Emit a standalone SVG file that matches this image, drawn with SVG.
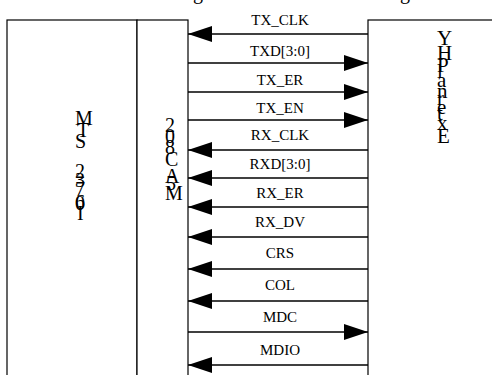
<svg xmlns="http://www.w3.org/2000/svg" width="492" height="375" viewBox="0 0 492 375">
  <style>
    .box { fill: #ffffff; stroke: #000000; stroke-width: 1.2; }
    .sig { stroke: #000000; stroke-width: 1.6; fill: none; }
    .lbl { font-family: "Liberation Serif", "Times New Roman", serif; font-size: 15px; fill: #000000; text-anchor: middle; }
    .vt { font-family: "Liberation Serif", "Times New Roman", serif; font-size: 20px; fill: #000000; }
  </style>
  <defs>
    <marker id="head" viewBox="0 0 24 16" refX="24" refY="8" markerWidth="24" markerHeight="16" markerUnits="userSpaceOnUse" orient="auto">
      <path d="M0,0 L24,8 L0,16 Z" fill="#000000"/>
    </marker>
  </defs>
  <rect width="492" height="375" fill="#ffffff"/>

  <!-- heading glyphs clipped by the top edge -->
  <text class="vt" x="193" y="-1">g</text>
  <text class="vt" x="400" y="-1">g</text>

  <g id="mcu">
    <rect class="box" x="7" y="20" width="130" height="370"/>
    <text class="vt">
      <tspan x="75" y="125">M</tspan>
      <tspan x="77" y="137">T</tspan>
      <tspan x="75" y="148">S</tspan>
      <tspan x="75" y="178">2</tspan>
      <tspan x="75" y="187">3</tspan>
      <tspan x="75" y="196">7</tspan>
      <tspan x="75" y="209">6</tspan>
      <tspan x="75" y="210">0</tspan>
      <tspan x="77" y="220">I</tspan>
    </text>
  </g>

  <g id="mac">
    <rect class="box" x="137" y="20" width="51" height="370"/>
    <text class="vt">
      <tspan x="165" y="132">2</tspan>
      <tspan x="165" y="143">0</tspan>
      <tspan x="165" y="154">8</tspan>
      <tspan x="165" y="166">C</tspan>
      <tspan x="165" y="183">A</tspan>
      <tspan x="166" y="190">5</tspan>
      <tspan x="165" y="200">M</tspan>
    </text>
  </g>

  <g id="phy">
    <rect class="box" x="368" y="20" width="140" height="370"/>
    <text class="vt" style="font-size:21px" x="0" y="0" transform="translate(437,143) rotate(-90)" rotate="90">ExternalPHY</text>
  </g>

  <g id="connectors">
    <line class="sig" x1="368" y1="34" x2="188" y2="34" marker-end="url(#head)"/>
    <line class="sig" x1="188" y1="63" x2="368" y2="63" marker-end="url(#head)"/>
    <line class="sig" x1="188" y1="92" x2="368" y2="92" marker-end="url(#head)"/>
    <line class="sig" x1="188" y1="120" x2="368" y2="120" marker-end="url(#head)"/>
    <line class="sig" x1="368" y1="150" x2="188" y2="150" marker-end="url(#head)"/>
    <line class="sig" x1="368" y1="178" x2="188" y2="178" marker-end="url(#head)"/>
    <line class="sig" x1="368" y1="207" x2="188" y2="207" marker-end="url(#head)"/>
    <line class="sig" x1="368" y1="237" x2="188" y2="237" marker-end="url(#head)"/>
    <line class="sig" x1="368" y1="269" x2="188" y2="269" marker-end="url(#head)"/>
    <line class="sig" x1="368" y1="301" x2="188" y2="301" marker-end="url(#head)"/>
    <line class="sig" x1="188" y1="332" x2="368" y2="332" marker-end="url(#head)"/>
    <line class="sig" x1="368" y1="365" x2="188" y2="365" marker-end="url(#head)"/>

    <text class="lbl" x="280" y="25">TX_CLK</text>
    <text class="lbl" x="280" y="56">TXD[3:0]</text>
    <text class="lbl" x="280" y="85">TX_ER</text>
    <text class="lbl" x="280" y="113">TX_EN</text>
    <text class="lbl" x="280" y="140">RX_CLK</text>
    <text class="lbl" x="280" y="169">RXD[3:0]</text>
    <text class="lbl" x="280" y="198">RX_ER</text>
    <text class="lbl" x="280" y="227">RX_DV</text>
    <text class="lbl" x="280" y="258">CRS</text>
    <text class="lbl" x="280" y="290">COL</text>
    <text class="lbl" x="280" y="322">MDC</text>
    <text class="lbl" x="280" y="355">MDIO</text>
  </g>
</svg>
